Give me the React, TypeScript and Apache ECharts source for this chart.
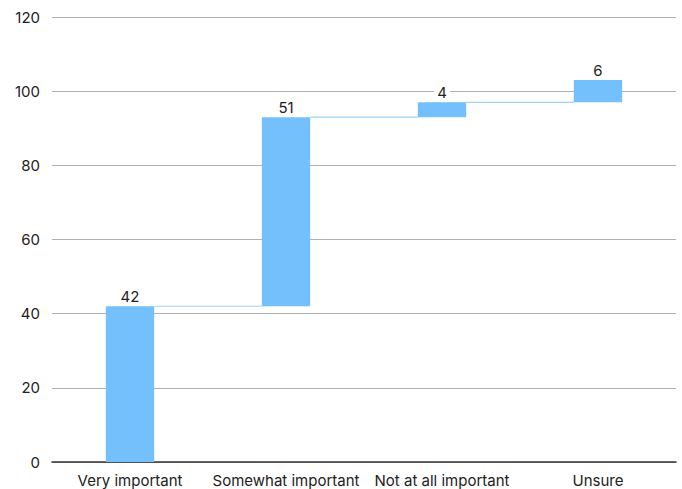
import React, { useEffect, useRef } from "react";
import * as echarts from "echarts";

const categories = ["Very important", "Somewhat important", "Not at all important", "Unsure"];
const values = [42, 51, 4, 6];
const yTicks = { min: 0, max: 120, interval: 20 };

const BAR_COLOR = "#73c0fc";
const FONT = "Inter, 'Noto Sans', sans-serif";

export default function App() {
  const ref = useRef<HTMLDivElement>(null);

  useEffect(() => {
    if (!ref.current) return;
    const chart = echarts.init(ref.current, null, { renderer: "svg" });

    // Running totals: each bar floats on the sum of the ones before it
    const bases: number[] = [];
    const tops: number[] = [];
    let acc = 0;
    values.forEach((v) => {
      bases.push(acc);
      acc += v;
      tops.push(acc);
    });

    const barFrac = 0.31;

    chart.setOption({
      animation: false,
      grid: { left: 52, right: 6, top: 17, bottom: 27, containLabel: false },
      xAxis: {
        type: "category",
        data: categories,
        axisTick: { show: false },
        axisLine: { show: true, lineStyle: { color: "#333", width: 1.5 } },
        axisLabel: { color: "#222", fontSize: 15, fontFamily: FONT, margin: 11, interval: 0 },
      },
      yAxis: {
        type: "value",
        min: yTicks.min,
        max: yTicks.max,
        interval: yTicks.interval,
        axisLine: { show: false },
        axisTick: { show: false },
        axisLabel: { color: "#222", fontSize: 15, fontFamily: FONT, margin: 12 },
        splitLine: { lineStyle: { color: "#b0b0b0", width: 1 } },
      },
      series: [
        {
          type: "bar",
          stack: "total",
          data: bases,
          itemStyle: { color: "transparent" },
          barWidth: `${barFrac * 100}%`,
          silent: true,
        },
        {
          type: "bar",
          stack: "total",
          data: values,
          barWidth: `${barFrac * 100}%`,
          itemStyle: { color: BAR_COLOR },
          label: {
            show: true,
            position: "top",
            distance: 2,
            color: "#222",
            fontSize: 15,
            fontFamily: FONT,
            backgroundColor: "#fff",
            padding: [0, 3, 0, 3],
          },
          z: 3,
        },
        {
          // connector lines between consecutive bar tops
          type: "custom",
          data: tops.slice(0, -1).map((t, i) => [i, t]),
          z: 2,
          renderItem: (params: any, api: any) => {
            const i = api.value(0);
            const y = api.value(1);
            const band = api.size([1, 0])[0];
            const half = (band * barFrac) / 2;
            const p0 = api.coord([i, y]);
            const p1 = api.coord([i + 1, y]);
            return {
              type: "line",
              shape: { x1: p0[0] + half, y1: p0[1], x2: p1[0] - half, y2: p1[1] },
              style: { stroke: "#9fd3fb", lineWidth: 1.2 },
            };
          },
        },
      ],
    });

    return () => chart.dispose();
  }, []);

  return <div ref={ref} style={{ width: 682, height: 489, position: "absolute", left: 0, top: 0 }} />;
}
